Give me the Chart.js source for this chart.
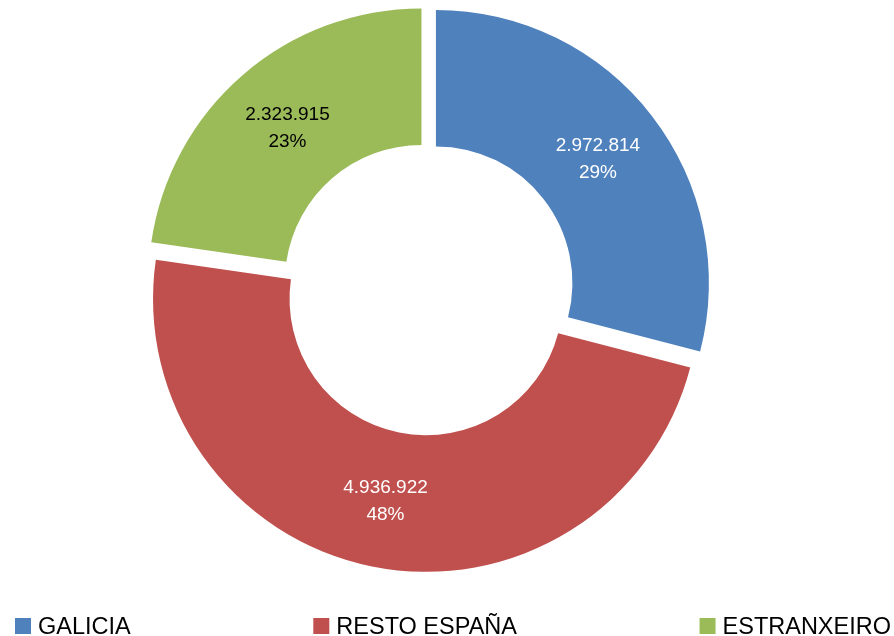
<!DOCTYPE html>
<html>
<head>
<meta charset="utf-8">
<script src="https://cdn.jsdelivr.net/npm/chart.js@4.4.0/dist/chart.umd.min.js"></script>
<style>
    html, body { margin: 0; padding: 0; background: #fff; }
    #wrap { width: 894px; height: 636px; position: relative; }
</style>
</head>
<body>
<div id="wrap"><canvas id="donutChart"></canvas></div>
<script>
const categories = ['GALICIA', 'RESTO ESPAÑA', 'ESTRANXEIRO'];
const visitors = [2972814, 4936922, 2323915];
const sliceColors = ['#4F81BD', '#C0504D', '#9BBB59'];
const labelColors = ['#FFFFFF', '#FFFFFF', '#000000'];

const FONT = '"Liberation Sans", Arial, sans-serif';
const EXPLODE = 10; // px every slice is pulled out

const formatThousands = (value) => String(value).replace(/\B(?=(\d{3})+(?!\d))/g, '.');

// draw the arcs pulled out along their bisector (exploded doughnut)
const explodedArcs = {
    id: 'explodedArcs',
    beforeDatasetDraw(chart, args) {
        const ctx = chart.ctx;
        args.meta.data.forEach(arc => {
            const mid = (arc.startAngle + arc.endAngle) / 2;
            ctx.save();
            ctx.translate(Math.cos(mid) * EXPLODE, Math.sin(mid) * EXPLODE);
            arc.draw(ctx, chart.chartArea);
            ctx.restore();
        });
        return false;
    }
};

// value + percentage inside every slice
const sliceLabels = {
    id: 'sliceLabels',
    afterDatasetsDraw(chart) {
        const ctx = chart.ctx;
        const meta = chart.getDatasetMeta(0);
        const data = chart.data.datasets[0].data;
        const total = data.reduce((s, v) => s + v, 0);
        ctx.save();
        ctx.font = `19px ${FONT}`;
        ctx.textAlign = 'center';
        ctx.textBaseline = 'middle';
        meta.data.forEach((arc, i) => {
            const p = arc.getCenterPoint();
            const mid = (arc.startAngle + arc.endAngle) / 2;
            const x = p.x + Math.cos(mid) * EXPLODE;
            const y = p.y + Math.sin(mid) * EXPLODE;
            ctx.fillStyle = labelColors[i];
            ctx.fillText(formatThousands(data[i]), x, y - 12);
            ctx.fillText(Math.round(data[i] / total * 100) + '%', x, y + 15);
        });
        ctx.restore();
    }
};

// legend spread across the bottom like the original
const bottomLegend = {
    id: 'bottomLegend',
    afterDraw(chart) {
        const ctx = chart.ctx;
        const box = 16, gapText = 7;
        const startX = 15, endX = 891, baseY = 634;
        ctx.save();
        ctx.font = `23.5px ${FONT}`;
        ctx.textBaseline = 'alphabetic';
        const widths = chart.data.labels.map(l => box + gapText + ctx.measureText(l).width);
        const used = widths.reduce((s, w) => s + w, 0);
        const gap = (endX - startX - used) / (widths.length - 1);
        let x = startX;
        chart.data.labels.forEach((label, i) => {
            ctx.fillStyle = sliceColors[i];
            ctx.fillRect(x, baseY - box, box, box);
            ctx.fillStyle = '#000000';
            ctx.fillText(label, x + box + gapText, baseY);
            x += widths[i] + gap;
        });
        ctx.restore();
    }
};

new Chart(document.getElementById('donutChart'), {
    type: 'doughnut',
    data: {
        labels: categories,
        datasets: [{
            data: visitors,
            backgroundColor: sliceColors,
            borderWidth: 0
        }]
    },
    options: {
        responsive: true,
        maintainAspectRatio: false,
        animation: false,
        cutout: '50%',
        layout: { padding: { top: 16, bottom: 74, left: 0, right: 38 } },
        plugins: {
            legend: { display: false },
            tooltip: { enabled: false }
        }
    },
    plugins: [explodedArcs, sliceLabels, bottomLegend]
});
</script>
</body>
</html>
